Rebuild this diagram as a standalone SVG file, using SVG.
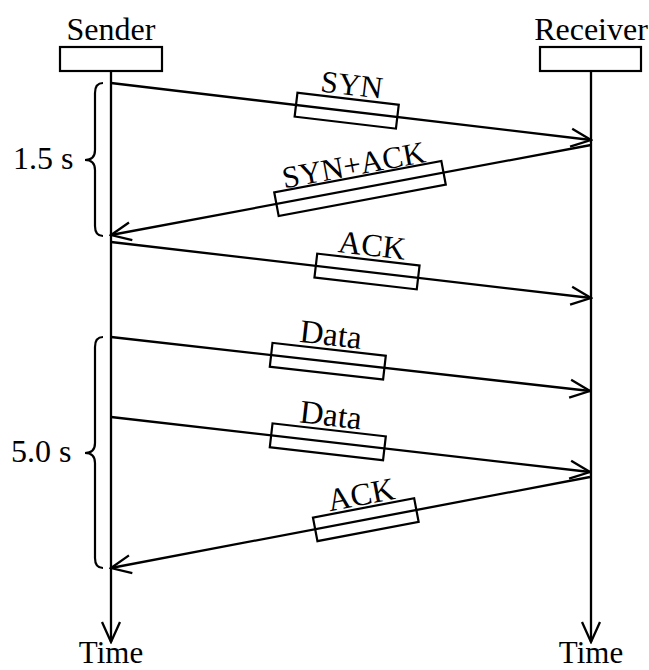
<svg xmlns="http://www.w3.org/2000/svg" width="649" height="670" viewBox="0 0 649 670">
<style>
  text { font-family: "Liberation Serif", "Times New Roman", serif; font-size: 31px; fill: #000; }
  .mid { text-anchor: middle; }
  .hdr { font-size: 32px; }
  .box { fill: none; stroke: #000; stroke-width: 2.2; }
  .line { fill: none; stroke: #000; stroke-width: 2.2; }
  .msg { fill: none; stroke: #000; stroke-width: 2.3; marker-end: url(#arr); }
</style>
<defs>
  <marker id="arr" markerUnits="userSpaceOnUse" viewBox="0 0 24 24" markerWidth="24" markerHeight="24" refX="22" refY="12" orient="auto">
    <path d="M2 3 L22 12 L2 21" fill="none" stroke="#000" stroke-width="2.3"/>
  </marker>
</defs>
<rect width="649" height="670" fill="#fff"/>

<g id="sender">
  <text class="mid hdr" x="111" y="40">Sender</text>
  <rect class="box" x="60" y="47" width="102" height="24"/>
  <line class="msg" x1="111" y1="71" x2="111" y2="642"/>
  <text class="mid" x="111" y="663">Time</text>
</g>

<g id="receiver">
  <text class="mid hdr" x="591" y="40">Receiver</text>
  <rect class="box" x="540" y="47" width="101" height="24"/>
  <line class="msg" x1="591" y1="71" x2="591" y2="642"/>
  <text class="mid" x="591" y="663">Time</text>
</g>

<g id="brace-1">
  <path class="line" d="M103 83 Q95 83 95 93 L95 150 Q95 160 85 160 Q95 160 95 170 L95 226 Q95 236 103 236"/>
  <text class="hdr" x="13" y="169">1.5 s</text>
</g>
<g id="brace-2">
  <path class="line" d="M103 337 Q95 337 95 347 L95 443 Q95 453 85 453 Q95 453 95 463 L95 558 Q95 568 103 568"/>
  <text class="hdr" x="11" y="462">5.0 s</text>
</g>

<g id="connectors">
  <line class="msg" x1="111" y1="83" x2="591" y2="140"/>
  <line class="msg" x1="591" y1="145" x2="111" y2="235"/>
  <line class="msg" x1="111" y1="242" x2="591" y2="298"/>
  <line class="msg" x1="111" y1="337" x2="590" y2="391"/>
  <line class="msg" x1="111" y1="417" x2="590" y2="472"/>
  <line class="msg" x1="590" y1="477" x2="111" y2="568"/>
</g>

<g id="labels">
  <g id="label-syn" transform="translate(346.7 110.7) rotate(6.77)">
    <rect class="box" x="-51" y="-12" width="102" height="24"/>
    <text class="mid" x="2" y="-16">SYN</text>
  </g>
  <g id="label-synack" transform="translate(360 188.5) rotate(-10.62)">
    <rect class="box" x="-85" y="-12" width="170" height="24"/>
    <text class="mid" x="-2" y="-14">SYN+ACK</text>
  </g>
  <g id="label-ack1" transform="translate(367 271.5) rotate(6.65)">
    <rect class="box" x="-51.5" y="-12" width="103" height="24"/>
    <text class="mid" x="2" y="-16" style="font-size:32px">ACK</text>
  </g>
  <g id="label-data1" transform="translate(327.8 361.2) rotate(6.43)">
    <rect class="box" x="-57" y="-12" width="114" height="24"/>
    <text class="mid" x="0" y="-16" style="font-size:33px">Data</text>
  </g>
  <g id="label-data2" transform="translate(327.8 441.8) rotate(6.55)">
    <rect class="box" x="-57" y="-12" width="114" height="24"/>
    <text class="mid" x="0" y="-16" style="font-size:33px">Data</text>
  </g>
  <g id="label-ack2" transform="translate(365.8 519.7) rotate(-10.76)">
    <rect class="box" x="-51.5" y="-12" width="103" height="24"/>
    <text class="mid" x="0" y="-15" style="font-size:32px">ACK</text>
  </g>
</g>
</svg>
